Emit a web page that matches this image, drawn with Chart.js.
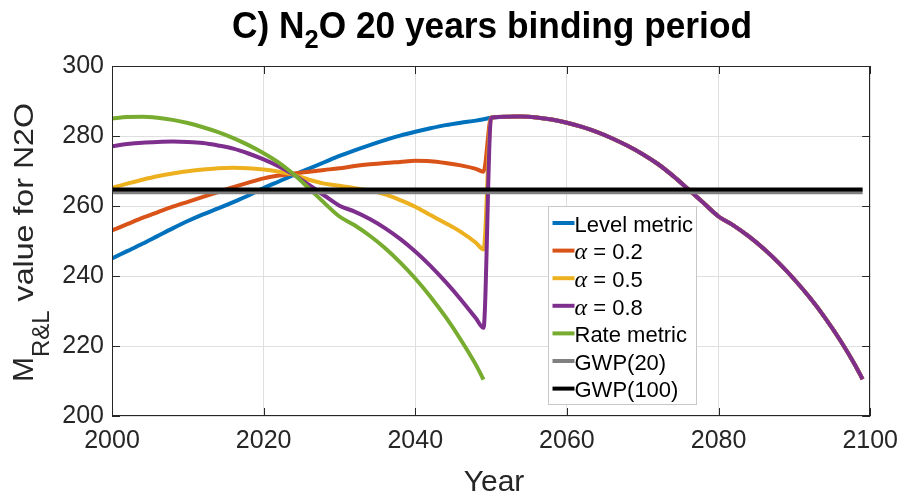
<!DOCTYPE html>
<html><head><meta charset="utf-8">
<script src="https://cdn.jsdelivr.net/npm/chart.js@4.4.0/dist/chart.umd.min.js"></script>
<style>html,body{margin:0;padding:0;background:#fff;}#wrap{width:908px;height:497px;}</style>
</head><body><div id="wrap"><canvas id="c" width="908" height="497"></canvas></div>
<script>
// ---- data ----
const yearsA = [2000,2002,2004,2006,2008,2010,2012,2014,2016,2018,2020,2022,2024,2026,2028,2030,2032,2034,2036,2038,2040,2042,2044,2046,2048,2049];
const yearsB = [2050,2052,2054,2056,2058,2060,2062,2064,2066,2068,2070,2072,2074,2076,2078,2080,2082,2084,2086,2088,2090,2092,2094,2096,2098,2099];
const levelA   = [245.0,247.1,249.2,251.4,253.6,255.7,257.6,259.3,261.1,263.0,265.1,267.0,268.9,270.7,272.5,274.3,275.9,277.4,278.8,280.1,281.2,282.2,283.1,283.8,284.4,284.8];
const alpha02A = [253.0,254.8,256.6,258.2,259.8,261.2,262.6,264.0,265.4,266.7,267.9,268.7,269.3,269.8,270.3,270.8,271.4,271.9,272.3,272.6,272.9,272.8,272.3,271.6,270.6,269.8];
const alpha05A = [265.2,266.4,267.5,268.5,269.3,269.9,270.4,270.8,270.9,270.8,270.4,269.8,268.9,267.5,266.4,265.8,265.1,264.4,263.3,261.7,259.8,257.4,255.1,252.6,249.5,247.6];
const alpha08A = [277.1,277.7,278.1,278.3,278.4,278.3,278.0,277.3,276.4,275.0,273.3,271.3,268.9,266.0,263.0,260.1,258.4,256.3,253.7,250.6,247.0,242.9,238.3,233.3,227.9,225.2];
const rateA    = [285.0,285.4,285.5,285.2,284.6,283.7,282.5,281.1,279.4,277.4,275.1,272.4,269.0,265.0,260.9,257.0,254.5,251.5,248.0,243.9,239.3,234.1,228.3,221.8,214.6,210.4];
const secondPeriod = [285.2,285.5,285.6,285.3,284.7,283.8,282.6,281.1,279.3,277.2,274.8,272.0,268.6,264.8,260.9,257.0,254.4,251.3,247.7,243.6,239.0,233.9,228.2,221.8,214.6,210.5];
const gwpYears = [2000, 2099];
const gwp20  = [263.9, 263.9];
const gwp100 = [264.7, 264.7];
const xTicks = [2000,2020,2040,2060,2080,2100];
const yTicks = [200,220,240,260,280,300];
const seriesLabels = ['Level metric','α = 0.2','α = 0.5','α = 0.8','Rate metric','GWP(20)','GWP(100)'];
const seriesColors = ['#0072BD','#D95319','#EDB120','#7E2F8E','#77AC30','#808080','#000000'];

function pts(xs, ys){ return xs.map((x,i)=>({x:x, y:ys[i]})); }
const allYears = yearsA.concat(yearsB);
const seriesData = [
  pts(allYears, levelA.concat(secondPeriod)),
  pts(allYears, alpha02A.concat(secondPeriod)),
  pts(allYears, alpha05A.concat(secondPeriod)),
  pts(allYears, alpha08A.concat(secondPeriod)),
  pts(yearsA, rateA),
  pts(gwpYears, gwp20),
  pts(gwpYears, gwp100)
];

const FONT = '"Liberation Sans", Arial, Helvetica, sans-serif';
const TXT = '#262626';

const datasets = seriesData.map((d,i)=>({
  label: seriesLabels[i], data: d, borderColor: seriesColors[i], backgroundColor: seriesColors[i],
  borderWidth: 4, pointRadius: 0, cubicInterpolationMode: 'monotone', fill: false,
  borderJoinStyle: 'round', borderCapStyle: 'butt', order: 7 - i
}));

const decor = {
  id: 'decor',
  afterDatasetsDraw(chart){
    const ctx = chart.ctx, a = chart.chartArea, xs = chart.scales.x, ys = chart.scales.y;
    ctx.save();
    ctx.strokeStyle = TXT; ctx.lineWidth = 1;
    ctx.strokeRect(Math.round(a.left)+0.5, Math.round(a.top)+0.5, Math.round(a.right-a.left)-1, Math.round(a.bottom-a.top)-1);
    const tl = 8;
    ctx.beginPath();
    xTicks.forEach(v=>{ const px = Math.round(xs.getPixelForValue(v))+0.5;
      ctx.moveTo(px, a.bottom); ctx.lineTo(px, a.bottom-tl);
      ctx.moveTo(px, a.top); ctx.lineTo(px, a.top+tl); });
    yTicks.forEach(v=>{ const py = Math.round(ys.getPixelForValue(v))+0.5;
      ctx.moveTo(a.left, py); ctx.lineTo(a.left+tl, py);
      ctx.moveTo(a.right, py); ctx.lineTo(a.right-tl, py); });
    ctx.stroke();

    // legend
    const L = {left:548.5, top:206.5, w:148, h:198};
    ctx.fillStyle = '#fff'; ctx.fillRect(L.left, L.top, L.w, L.h);
    ctx.strokeStyle = '#c8c8c8'; ctx.lineWidth = 1; ctx.strokeRect(L.left, L.top, L.w, L.h);
    chart.data.datasets.forEach((ds,i)=>{
      const cy = 223 + i*27.6;
      ctx.strokeStyle = ds.borderColor; ctx.lineWidth = 4; ctx.lineCap='butt';
      ctx.beginPath(); ctx.moveTo(552.5, cy); ctx.lineTo(574.5, cy); ctx.stroke();
      ctx.fillStyle = '#000'; ctx.textBaseline = 'alphabetic'; ctx.textAlign = 'left';
      const base = cy + 8.7;
      const lab = ds.label;
      if (lab.charAt(0) === 'α') {
        ctx.font = 'italic 24px "Liberation Serif", "Times New Roman", serif';
        ctx.fillText('α', 574.5, base);
        const w = ctx.measureText('α').width;
        ctx.font = '22px ' + FONT;
        ctx.fillText(lab.slice(1), 574.5 + w, base);
      } else {
        ctx.font = '22px ' + FONT;
        ctx.fillText(lab, 574.5, base);
      }
    });
    ctx.restore();
  },
  afterDraw(chart){
    const ctx = chart.ctx;
    ctx.save();
    ctx.fillStyle = '#000'; ctx.textBaseline = 'alphabetic'; ctx.textAlign = 'left';
    const big = 'bold 36px ' + FONT, small = 'bold 26px ' + FONT;
    ctx.font = big; const w1 = ctx.measureText('C) N').width; const w3 = ctx.measureText('O 20 years binding period').width;
    ctx.font = small; const w2 = ctx.measureText('2').width;
    const tot = w1 + w2 + w3, target = 520, sx = target / tot;
    ctx.translate(232, 38); ctx.scale(sx, 1);
    ctx.font = big; ctx.fillText('C) N', 0, 0);
    ctx.font = small; ctx.fillText('2', w1, 10);
    ctx.font = big; ctx.fillText('O 20 years binding period', w1 + w2, 0);
    ctx.restore();

    ctx.save();
    ctx.fillStyle = TXT; ctx.font = '30px ' + FONT; ctx.textAlign = 'center'; ctx.textBaseline = 'alphabetic';
    ctx.fillText('Year', 494, 491);
    ctx.restore();

    ctx.save();
    ctx.fillStyle = TXT; ctx.textAlign = 'left'; ctx.textBaseline = 'alphabetic';
    ctx.translate(33, 382); ctx.rotate(-Math.PI/2);
    const fM = '30px ' + FONT, fS = '24px ' + FONT, fV = '27px ' + FONT;
    ctx.font = fM; ctx.fillText('M', 0, 0); let p = ctx.measureText('M').width;
    ctx.font = fS; ctx.fillText('R&L', p, 16); p += ctx.measureText('R&L').width;
    ctx.font = fV; const vt = ' value for N2O'; const vw = ctx.measureText(vt).width;
    const avail = 382 - 103 - p; ctx.save(); ctx.translate(p, 0); ctx.scale(avail / vw, 1); ctx.fillText(vt, 0, 0); ctx.restore();
    ctx.restore();
  }
};

new Chart(document.getElementById('c'), {
  type: 'line',
  data: { datasets: datasets },
  options: {
    responsive: false, animation: false, devicePixelRatio: 1,
    layout: { padding: { left: 0, right: 34, top: 66, bottom: 0 } },
    plugins: { legend: { display: false }, title: { display: false }, tooltip: { enabled: false } },
    scales: {
      x: {
        type: 'linear', min: 2000, max: 2100,
        afterBuildTicks: s => { s.ticks = xTicks.map(v => ({ value: v })); },
        afterFit: s => { s.height = 81; },
        grid: { color: '#dfdfdf', lineWidth: 1, drawTicks: false },
        border: { display: false },
        ticks: { color: TXT, font: { family: FONT, size: 25 }, padding: 10, maxRotation: 0, callback: v => String(v) }
      },
      y: {
        type: 'linear', min: 200, max: 300,
        afterBuildTicks: s => { s.ticks = yTicks.map(v => ({ value: v })); },
        afterFit: s => { s.width = 112; },
        grid: { color: '#dfdfdf', lineWidth: 1, drawTicks: false },
        border: { display: false },
        ticks: { color: TXT, font: { family: FONT, size: 25 }, padding: 8, callback: v => String(v) }
      }
    }
  },
  plugins: [decor]
});
</script></body></html>
